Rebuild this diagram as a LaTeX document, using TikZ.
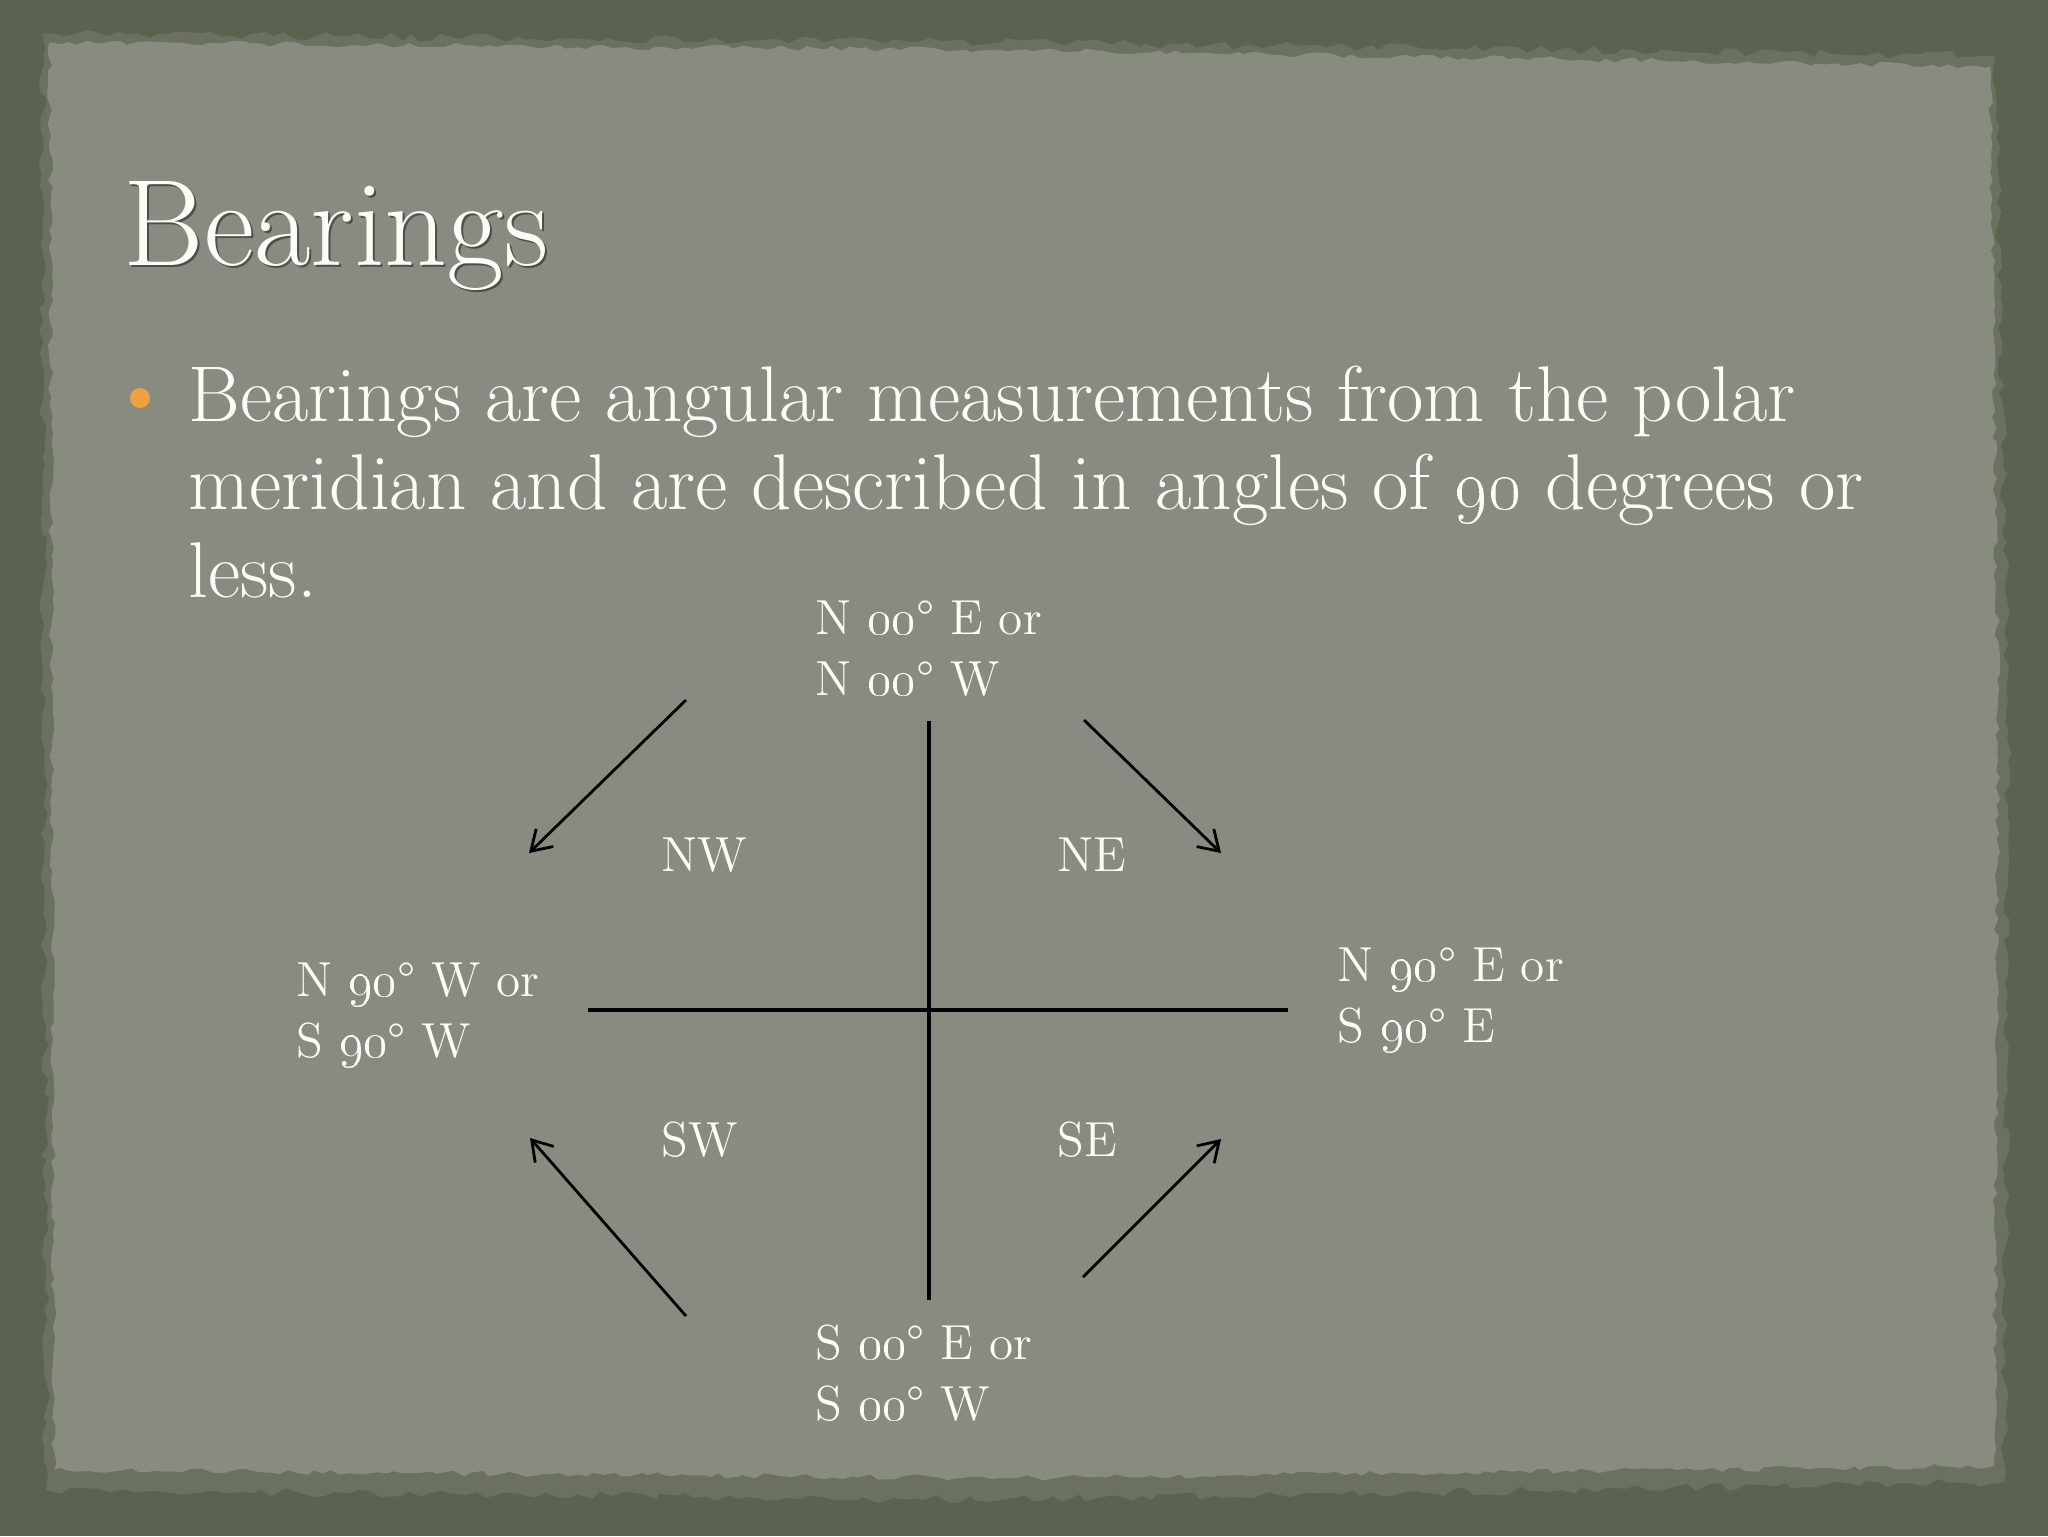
\documentclass[tikz,border=0pt]{standalone}
\usetikzlibrary{arrows.meta,decorations.pathmorphing}
\definecolor{frame}{RGB}{90,98,80}
\definecolor{paper}{RGB}{136,140,128}
\definecolor{paperedge}{RGB}{106,113,96}
\definecolor{dot}{RGB}{240,160,64}
\definecolor{chalk}{RGB}{252,252,246}
\begin{document}
\begin{tikzpicture}[x=0.1mm,y=-0.1mm,
    lbl/.style={anchor=base west,inner sep=0pt,text=chalk,align=left,font=\fontsize{14}{17.3}\selectfont},
    axis/.style={line width=0.9pt,black},
    arr/.style={line width=0.8pt,black,-{Straight Barb[length=5.5pt,width=7pt]}}]
  \pgfmathsetseed{7}
  \useasboundingbox (0,0) rectangle (2048,1536);
  \fill[frame] (0,0) rectangle (2048,1536);
  % torn paper
  \fill[paperedge,decorate,decoration={random steps,segment length=3pt,amplitude=1.2pt}]
    (42,34) -- (1000,42) -- (1995,56) -- (2008,700) -- (2004,1482) -- (1000,1500) -- (46,1490) -- cycle;
  \fill[paper,decorate,decoration={random steps,segment length=2.5pt,amplitude=0.8pt}]
    (50,42) -- (1000,50) -- (1990,66) -- (1998,700) -- (1994,1466) -- (1000,1478) -- (54,1470) -- cycle;
  % title and bullet
  \node[anchor=base west,inner sep=0pt,text=black!85,opacity=0.6,font=\fontsize{35}{42}\selectfont] (titleshadow) at (125,267) {Bearings};
  \node[anchor=base west,inner sep=0pt,text=chalk,font=\fontsize{35}{42}\selectfont] (title) at (123,265) {Bearings};
  \node[circle,fill=dot,inner sep=0pt,minimum size=2mm] (bullet) at (140,398) {};
  \node[lbl,font=\fontsize{22.5}{25}\selectfont] (bulltext) at (188,597)
    {Bearings are angular measurements from the polar\\
     meridian and are described in angles of \oldstylenums{90} degrees or\\
     less.};
  % axes
  \coordinate (N) at (929,721); \coordinate (S) at (929,1300);
  \coordinate (W) at (588,1010); \coordinate (E) at (1288,1010);
  \draw[axis] (N) -- (S);
  \draw[axis] (W) -- (E);
  % arrows
  \coordinate (nwtail) at (686,700); \coordinate (nwtip) at (529,853);
  \coordinate (netail) at (1084,720); \coordinate (netip) at (1221,853);
  \coordinate (swtail) at (686,1316); \coordinate (swtip) at (530,1138);
  \coordinate (setail) at (1083,1277); \coordinate (setip) at (1221,1139);
  \draw[arr] (nwtail) -- (nwtip);
  \draw[arr] (netail) -- (netip);
  \draw[arr] (swtail) -- (swtip);
  \draw[arr] (setail) -- (setip);
  % labels (base = last line)
  \node[lbl] (north) at (815,695) {N \oldstylenums{00}\textdegree\ E or\\ N \oldstylenums{00}\textdegree\ W};
  \node[lbl] (west) at (296,1057) {N \oldstylenums{90}\textdegree\ W or\\ S \oldstylenums{90}\textdegree\ W};
  \node[lbl] (east) at (1337,1042) {N \oldstylenums{90}\textdegree\ E or\\ S \oldstylenums{90}\textdegree\ E};
  \node[lbl] (south) at (815,1420) {S \oldstylenums{00}\textdegree\ E or\\ S \oldstylenums{00}\textdegree\ W};
  \node[lbl] (nw) at (661,871) {NW};
  \node[lbl] (ne) at (1057,871) {NE};
  \node[lbl] (sw) at (661,1156) {SW};
  \node[lbl] (se) at (1057,1156) {SE};
\end{tikzpicture}
\end{document}
